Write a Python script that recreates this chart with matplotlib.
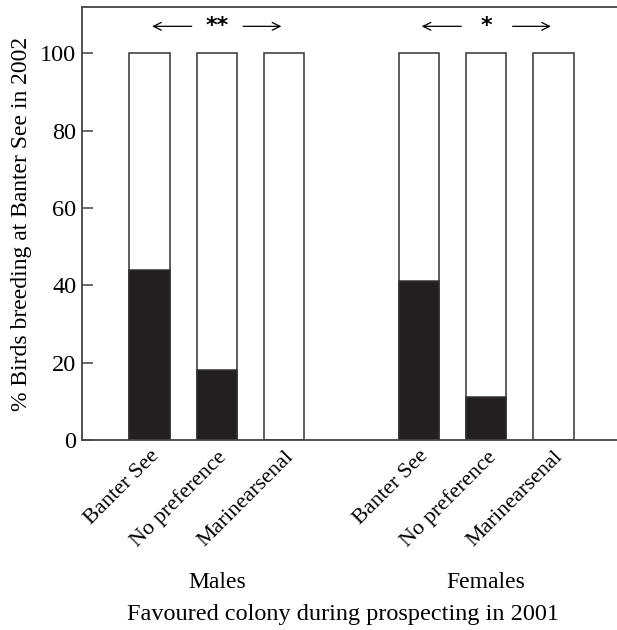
import matplotlib.pyplot as plt

# Données
colonies = ["Banter See", "No preference", "Marinearsenal"]
groups = ["Males", "Females"]
males = [44, 18, 0]
females = [41, 11, 0]
signif = ["**", "*"]

plt.rcParams["font.family"] = ["Liberation Serif", "DejaVu Serif"]
plt.rcParams["font.size"] = 14

fig = plt.figure(figsize=(6.17, 6.3), dpi=100)
ax = fig.add_axes([82 / 617, 1 - 440 / 630, 1 - 82 / 617, 433 / 630])

pos = [0, 1, 2, 4, 5, 6]
values = males + females
dark = "#231f20"
ax.bar(pos, [100] * 6, width=0.6, color="white", edgecolor="#333333", linewidth=1.1)
ax.bar(pos, values, width=0.6, color=dark, edgecolor="#333333", linewidth=1.1)

ax.set_xlim(-1, 6.94)
ax.set_ylim(0, 112)
ax.set_yticks([0, 20, 40, 60, 80, 100])
ax.tick_params(axis="y", direction="in", length=8, width=1.1, color="#444444", labelsize=17.5, pad=4)
ax.tick_params(axis="x", length=0, pad=5)
ax.set_xticks(pos)
ax.set_xticklabels(colonies * 2, rotation=45, ha="right", rotation_mode="anchor", fontsize=16)
for s in ["left", "top", "bottom"]:
    ax.spines[s].set_linewidth(1.3)
    ax.spines[s].set_color("#444444")
ax.spines["right"].set_visible(False)

ax.set_ylabel("% Birds breeding at Banter See in 2002", fontsize=17, labelpad=6)

# Flèches de significativité
for start, star in zip([0, 4], signif):
    ax.annotate("", xy=(start, 107), xytext=(start + 0.67, 107),
                arrowprops=dict(arrowstyle="->", color="black", lw=0.9))
    ax.annotate("", xy=(start + 2, 107), xytext=(start + 1.35, 107),
                arrowprops=dict(arrowstyle="->", color="black", lw=0.9))
    ax.text(start + 1, 107, star, ha="center", va="center", fontsize=16,
            fontfamily="DejaVu Sans", fontweight="bold")

for center, g in zip([1, 5], groups):
    ax.text(center, -0.33, g, transform=ax.get_xaxis_transform(), ha="center", va="center", fontsize=17)
ax.text(0.487, -0.402, "Favoured colony during prospecting in 2001", transform=ax.transAxes,
        ha="center", va="center", fontsize=17.5)

fig.savefig("out.png", dpi=100)
